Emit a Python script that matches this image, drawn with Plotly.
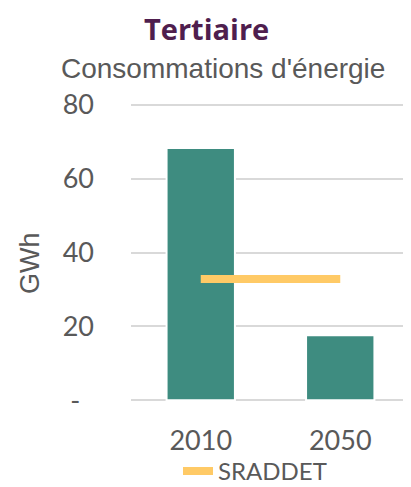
import plotly.graph_objects as go

categories = ["2010", "2050"]
consumption = [68.3, 17.6]
sraddet = [32.8, 32.8]
y_ticks = [0, 20, 40, 60, 80]
y_tick_labels = ["-\u00a0\u00a0", "20", "40", "60", "80"]

# the page body adds an 8px offset; figure is sized to fit the window
# plot area (screen px): x 131..410, y 103.2..401.8
def py(p):
    return (401.8 - p) / 298.6

def px(p):
    return (p - 131) / 279

fig = go.Figure()
fig.add_trace(go.Bar(
    x=categories, y=consumption, name="Consommation",
    marker=dict(color="#3E8C80", line=dict(color="white", width=2)),
    width=0.49, showlegend=False,
))
fig.add_trace(go.Scatter(
    x=categories, y=sraddet, name="SRADDET", mode="lines",
    line=dict(color="#FFCA66", width=8),
))

fig.update_layout(
    width=403, height=479,
    paper_bgcolor="white", plot_bgcolor="white",
    margin=dict(l=123, r=1, t=95, b=85, autoexpand=False),
    showlegend=True,
    xaxis=dict(
        type="category", showgrid=False, showline=False, ticks="",
        automargin=False, ticklabelstandoff=20,
        tickfont=dict(family="Lato", size=27, color="#595959"),
    ),
    yaxis=dict(
        range=[-0.5, 80.5], tickvals=y_ticks, ticktext=y_tick_labels,
        showgrid=True, gridcolor="#D9D9D9", gridwidth=2,
        zeroline=False, showline=False, ticks="",
        automargin=False, ticklabelstandoff=36,
        tickfont=dict(family="Lato", size=27, color="#595959"),
    ),
    legend=dict(
        orientation="h", x=px(178), xanchor="left", y=py(471), yanchor="middle",
        font=dict(family="Lato", size=24, color="#595959"),
        bgcolor="rgba(0,0,0,0)", borderwidth=0,
    ),
    annotations=[
        dict(text="<b>Tertiaire</b>", xref="paper", yref="paper",
             x=px(206), y=py(28.5), xanchor="center", yanchor="middle",
             showarrow=False, borderpad=0,
             font=dict(family="Open Sans", size=29, color="#4F1E4E")),
        dict(text="Consommations d'énergie", xref="paper", yref="paper",
             x=px(223), y=py(69), xanchor="center", yanchor="middle",
             showarrow=False, font=dict(family="Liberation Sans", size=28, color="#595959")),
        dict(text="GWh", xref="paper", yref="paper", textangle=-90,
             x=px(30), y=py(263), xanchor="center", yanchor="middle",
             showarrow=False, font=dict(family="Liberation Sans", size=27, color="#595959")),
    ],
)
fig.write_html("out.html")
